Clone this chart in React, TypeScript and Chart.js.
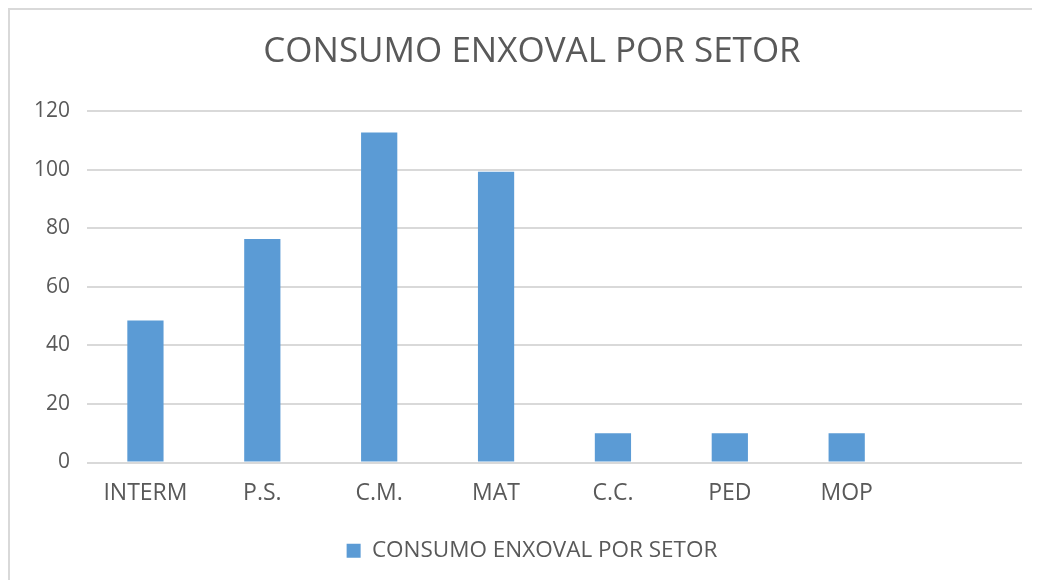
import React, { useEffect, useRef } from "react";
import { Chart, registerables } from "chart.js";

Chart.register(...registerables);

const TITLE = "CONSUMO ENXOVAL POR SETOR";
const SERIES_LABEL = "CONSUMO ENXOVAL POR SETOR";
const categories = ["INTERM", "P.S.", "C.M.", "MAT", "C.C.", "PED", "MOP", ""];
const values = [48.5, 76.3, 112.7, 99.3, 10, 10, 10, null];
const yTicks = [0, 20, 40, 60, 80, 100, 120];

const TEXT = "#595959";
const GRID = "#d9d9d9";
const BAR = "#5b9bd5";
const FONT = "'Open Sans', 'DejaVu Sans', sans-serif";

export default function App() {
  const ref = useRef<HTMLCanvasElement | null>(null);

  useEffect(() => {
    if (!ref.current) return;
    const chart = new Chart(ref.current, {
      type: "bar",
      data: {
        labels: categories,
        datasets: [
          {
            label: SERIES_LABEL,
            data: values as any,
            backgroundColor: BAR,
            borderWidth: 0,
            categoryPercentage: 1,
            barPercentage: 0.31,
          },
        ],
      },
      options: {
        animation: false,
        responsive: false,
        maintainAspectRatio: false,
        layout: { padding: { left: 32, right: 18, top: 0, bottom: 8 } },
        plugins: {
          title: {
            display: true,
            text: TITLE,
            color: TEXT,
            font: { family: FONT, size: 35, weight: "normal" },
            padding: { top: 21, bottom: 38 },
          },
          legend: {
            display: true,
            position: "bottom",
            labels: {
              color: TEXT,
              font: { family: FONT, size: 22.5 },
              boxWidth: 14,
              boxHeight: 14,
              padding: 10,
            },
          },
          tooltip: { enabled: false },
        },
        scales: {
          x: {
            grid: { display: false, drawTicks: false },
            border: { display: false },
            ticks: {
              color: TEXT,
              font: { family: FONT, size: 23 },
              padding: 17,
              maxRotation: 0,
              autoSkip: false,
            },
            afterFit: (s: any) => {
              s.height = 67;
            },
          },
          y: {
            min: 0,
            max: 120,
            afterBuildTicks: (s: any) => {
              s.ticks = yTicks.map((v) => ({ value: v }));
            },
            grid: { color: GRID, lineWidth: 2, drawTicks: false },
            border: { display: false },
            ticks: {
              color: TEXT,
              font: { family: FONT, size: 21 },
              padding: 17,
            },
            afterFit: (s: any) => {
              s.width = 45;
              s._computeLabelArea = () => undefined;
            },
          },
        },
      },
    });
    return () => chart.destroy();
  }, []);

  return (
    <div
      style={{
        width: 1030,
        height: 570,
        borderTop: "2px solid #d9d9d9",
        borderLeft: "2px solid #d9d9d9",
        background: "#fff",
      }}
    >
      <canvas ref={ref} width={1030} height={570} style={{ display: "block" }} />
    </div>
  );
}
